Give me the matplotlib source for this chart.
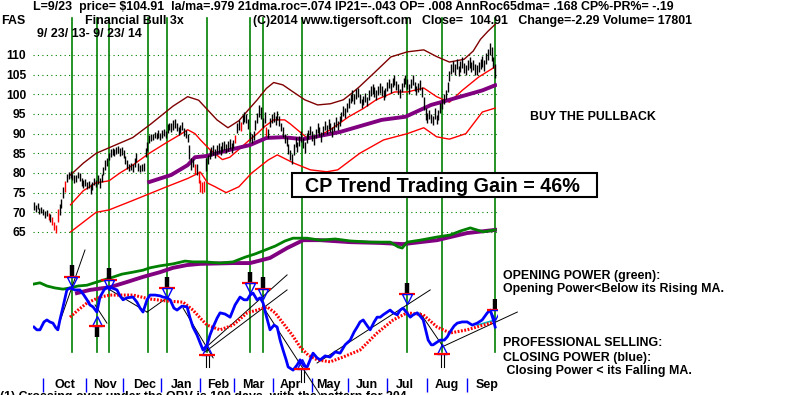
#%% Libraries
"""
FAS (Financial Bull 3x) - Tiger style chart with Closing Power panel
"""
import numpy as np
import matplotlib
matplotlib.use("Agg")
import matplotlib.pyplot as plt
from matplotlib.patches import Rectangle
from matplotlib.transforms import offset_copy

plt.rcParams['font.family'] = ['Liberation Sans', 'DejaVu Sans']
plt.rcParams['font.weight'] = 'bold'

#%% Data
# daily bars, trading day index 0 = 9/23/13 ... 252 = 9/23/14
lows = [70.5, 70.0, 70.8, 69.6, 69.8, 69.2, 68.6, 69.0, 68.0, 67.6,
        66.8, 65.6, 64.8, 67.6, 69.4, 71.0, 73.6, 75.2, 77.8, 78.4,
        78.8, 78.2, 77.4, 77.8, 78.6, 78.0, 76.8, 76.2, 76.6, 75.8,
        76.2, 74.6, 75.6, 77.0, 76.4, 77.2, 76.2, 77.6, 79.4, 80.8,
        81.8, 83.2, 84.0, 84.6, 84.2, 84.8, 85.0, 84.4, 84.6, 83.8,
        82.4, 81.0, 80.4, 80.8, 80.2, 81.6, 82.8, 80.6, 80.2, 80.4,
        80.6, 84.0, 85.6, 87.6, 88.2, 88.4, 88.8, 88.6, 89.0, 88.4,
        89.0, 89.4, 88.8, 90.2, 90.8, 90.4, 91.0, 91.4, 90.6, 89.6,
        90.2, 91.0, 89.4, 88.8, 87.8, 83.6, 80.8, 81.4, 79.8, 79.4,
        77.4, 75.2, 75.0, 75.2, 80.6, 82.2, 83.6, 84.2, 84.6, 83.8,
        84.8, 85.2, 84.6, 85.4, 85.8, 85.0, 85.6, 86.0, 85.2, 86.4,
        87.6, 90.2, 91.0, 90.6, 92.4, 93.0, 92.6, 91.2, 88.2, 87.6,
        88.4, 91.0, 92.8, 94.2, 93.6, 91.4, 92.6, 89.4, 88.8, 91.6,
        92.6, 93.0, 92.2, 93.4, 92.0, 90.6, 89.2, 87.6, 86.8, 84.8,
        83.4, 82.2, 84.6, 86.6, 85.4, 86.8, 88.0, 86.4, 85.2, 87.6,
        88.6, 89.6, 88.2, 87.2, 88.8, 90.2, 89.4, 88.0, 89.6, 90.8,
        89.8, 91.2, 90.4, 89.2, 90.6, 91.8, 90.8, 92.0, 93.2, 94.6,
        94.0, 95.4, 96.6, 97.8, 98.4, 97.6, 98.8, 99.2, 97.8, 96.4,
        97.2, 98.0, 97.0, 98.6, 99.6, 100.2, 99.4, 98.6, 99.8, 100.4,
        99.6, 98.6, 99.2, 100.8, 101.6, 100.4, 101.8, 102.4, 101.0, 100.2,
        99.0, 100.6, 101.8, 102.6, 101.4, 100.2, 101.6, 102.4, 100.8, 99.8,
        100.6, 101.2, 99.4, 96.0, 93.4, 92.8, 93.6, 92.6, 92.2, 93.8,
        92.4, 93.4, 95.2, 96.2, 97.6, 98.8, 100.6, 103.4, 105.2, 105.8,
        105.0, 106.4, 104.6, 105.8, 106.8, 105.4, 104.8, 106.2, 106.8, 105.6,
        106.2, 105.0, 104.8, 105.6, 106.4, 107.0, 106.0, 107.8, 108.6, 110.0,
        108.4, 106.6, 104.2]
highs = [72.6, 71.8, 72.4, 71.2, 71.4, 70.8, 70.4, 70.6, 69.8, 69.6,
         68.8, 67.6, 66.8, 70.8, 72.2, 73.4, 76.4, 78.0, 79.8, 80.2,
         80.4, 79.8, 79.4, 79.6, 80.2, 80.0, 78.8, 78.2, 78.4, 77.6,
         78.0, 77.2, 77.6, 78.8, 78.2, 79.6, 78.6, 79.8, 81.6, 83.2,
         83.8, 85.2, 86.0, 86.4, 86.2, 86.6, 86.8, 86.4, 86.6, 85.8,
         84.4, 83.2, 82.4, 82.6, 82.2, 83.8, 85.0, 82.6, 82.0, 82.4,
         82.6, 86.4, 88.0, 89.6, 89.8, 90.0, 90.4, 90.2, 90.8, 90.2,
         90.8, 91.2, 90.6, 92.4, 92.8, 92.6, 93.4, 93.6, 92.8, 91.8,
         92.2, 93.0, 91.4, 90.8, 89.8, 87.2, 83.8, 83.6, 82.2, 82.4,
         80.4, 78.2, 77.6, 78.0, 83.8, 84.6, 85.8, 86.6, 87.2, 86.2,
         87.0, 87.6, 86.8, 87.8, 88.2, 87.4, 88.2, 88.6, 87.6, 88.4,
         89.6, 92.6, 93.4, 93.0, 94.8, 95.4, 95.0, 93.6, 90.4, 89.8,
         90.6, 93.4, 95.2, 97.4, 96.8, 94.0, 95.6, 91.8, 91.2, 94.0,
         95.0, 95.6, 94.6, 95.8, 94.4, 92.8, 91.6, 90.0, 89.2, 87.4,
         85.8, 84.8, 87.4, 89.2, 88.0, 89.4, 90.6, 88.8, 87.8, 90.2,
         91.0, 92.0, 90.6, 89.6, 91.2, 92.6, 91.8, 90.4, 92.0, 93.2,
         92.2, 93.6, 92.8, 91.6, 93.0, 94.2, 93.2, 94.4, 95.6, 97.0,
         96.4, 97.8, 99.0, 100.2, 101.0, 100.2, 101.4, 101.6, 100.2, 98.8,
         99.6, 100.4, 99.4, 101.0, 102.0, 102.6, 101.8, 101.0, 102.2, 102.8,
         102.0, 101.0, 101.6, 103.2, 104.0, 102.8, 104.2, 104.8, 103.4, 102.6,
         101.4, 103.0, 104.2, 105.0, 103.8, 102.6, 104.0, 104.8, 103.2, 102.2,
         103.0, 103.6, 101.8, 99.4, 96.4, 95.2, 96.0, 95.0, 94.6, 96.4,
         94.8, 96.0, 97.8, 98.8, 100.0, 101.2, 103.2, 106.0, 107.8, 108.4,
         107.6, 109.0, 107.2, 108.4, 109.4, 108.0, 107.4, 108.8, 109.4, 108.2,
         108.8, 107.6, 107.4, 108.2, 109.0, 109.8, 108.6, 110.4, 111.6, 113.0,
         112.0, 109.4, 107.6]
red_days = [8, 10, 11, 12, 13, 17, 88, 90, 91, 92, 93, 110, 113, 127]

# 21-day bands and 65-day ma
bb_up_d = [20, 27, 34, 44, 54, 64, 76, 84, 90, 95, 100, 106, 112, 118, 122, 127,
           131, 136, 141, 148, 155, 162, 169, 174, 178, 186, 195, 204, 213, 220,
           227, 235, 240, 244, 248, 252]
bb_up_v = [79.5, 82.5, 85, 87, 89, 92.5, 97, 99.4, 98.5, 96, 93.5, 91.5, 93.3,
           96.5, 98.6, 101.5, 103, 102.4, 100.8, 98.6, 97.3, 97.6, 98.6, 100.4,
           102, 105.5, 109.5, 110.8, 111.3, 109.6, 108.2, 108.9, 111, 114, 116, 117.8]
ma21_d = [20, 27, 34, 41, 47, 54, 63, 72, 80, 84, 88, 91, 96, 103, 107, 112, 118,
          122, 126, 131, 137, 140, 149, 156, 162, 172, 180, 187, 197, 204, 213,
          220, 227, 234, 243, 252]
ma21_v = [71.9, 75.5, 77.5, 78, 80, 82, 85, 87.6, 89.8, 91, 90, 88.4, 86, 83.4,
          84, 86, 88.5, 90, 91.8, 93.5, 93.5, 92.5, 89, 89.5, 91, 94.3, 96.4, 98.6,
          100.6, 100.6, 101.6, 99.4, 98, 101, 104.4, 107]
bb_lo_d = [20, 34, 41, 54, 72, 84, 91, 95, 99, 105, 112, 119, 128, 133, 142, 151,
           160, 166, 178, 191, 204, 213, 220, 227, 236, 245, 252]
bb_lo_v = [65, 70, 70.6, 73, 76.4, 78.6, 80.2, 77.4, 76.5, 75, 76.5, 80, 83.3,
           84.6, 82.5, 80.8, 80.3, 80.8, 85, 88.4, 90, 91.5, 89.2, 88.6, 90, 95.5, 96.5]
ma65_d = [63, 75, 84, 88, 94, 108, 118, 127, 136, 147, 167, 190, 203, 217, 227, 245, 252]
ma65_v = [77.7, 79.5, 82, 84, 84.3, 86, 87.1, 88.9, 89.1, 88.6, 90.4, 93.5, 94.3,
          97.3, 98.6, 101, 102.3]

# Opening Power (green) and its ma, power index units
op_d = [0, 3.3, 7.1, 11.5, 15.9, 19.7, 24.1, 29, 34.4, 41.6, 48.1, 54.1, 59.6,
        63.4, 68.9, 76, 82.6, 86.9, 93.5, 101.7, 108.8, 115.4, 120.8, 126.3,
        131.8, 137.2, 141.6, 149.3, 156.4, 164.6, 172.8, 183.7, 194.6, 199,
        201.2, 203.9, 211, 220.3, 227.4, 232.9, 238.4, 245.5, 252]
op_v = [28.1, 28.4, 27.6, 27.1, 26.8, 27.1, 27.6, 27.8, 28.6, 29.6, 30.6, 31.1,
        31.6, 32.2, 32.7, 33.2, 33.9, 33.7, 33.7, 33.4, 33.7, 34.9, 35.7, 36.7,
        37.7, 39, 39.7, 39.7, 39.2, 39.5, 39, 38.7, 38.7, 37.5, 37.2, 38.7, 39.2,
        40, 40.5, 41.5, 42.3, 41.3, 41.8]
opma_d = [23.5, 30.6, 41.6, 50.8, 59.6, 68.9, 76, 83.7, 90.8, 108.8, 118.1, 129,
          138.3, 147.1, 156.4, 172.8, 189.2, 201.7, 211, 220.3, 236.7, 252]
opma_v = [25.8, 26.6, 27.3, 28.6, 29.9, 31.1, 32.2, 32.9, 33.2, 33.4, 33.4, 34.7,
          37.2, 39.2, 39.2, 38.7, 38.5, 38.2, 38.7, 39.2, 41, 41.8]

# Closing Power (blue) and its ma
cp_d = [0, 1.6, 3.3, 5.5, 7.1, 8.7, 10.4, 12.0, 13.1, 14.2, 15.9, 18.0, 19.7,
        22.4, 25.1, 27.3, 29.0, 30.6, 32.3, 34.4, 36.1, 38.3, 39.9, 42.6, 45.4,
        47.0, 48.7, 50.8, 54.1, 56.3, 58.0, 59.6, 61.8, 63.4, 66.2, 68.9, 70.5,
        72.7, 74.4, 76.5, 78.2, 80.9, 83.7, 85.3, 86.9, 89.1, 90.8, 92.4, 94.6,
        96.2, 97.9, 100.1, 101.7, 104.4, 107.2, 109.9, 112.6, 114.8, 116.5,
        118.1, 119.7, 121.9, 123.6, 125.2, 126.8, 129.0, 131.2, 132.9, 134.5,
        136.1, 137.8, 138.9, 141.6, 143.8, 145.4, 147.6, 149.3, 150.9, 152.5,
        154.7, 156.4, 159.1, 161.8, 164.6, 167.3, 170.0, 172.8, 175.0, 176.6,
        178.2, 179.9, 182.1, 183.7, 185.9, 187.5, 189.2, 190.8, 193.0, 194.6,
        196.3, 198.5, 200.1, 201.7, 203.4, 205.6, 207.2, 209.4, 211.0, 212.7,
        214.3, 215.4, 217.1, 218.1, 220.3, 222.0, 224.2, 225.8, 227.4, 229.6,
        231.3, 234.0, 236.7, 239.5, 242.2, 244.9, 247.7, 249.3, 251.0, 252.0]
cp_v = [17.2, 16.5, 16.5, 18.5, 19.0, 18.5, 18.2, 17.0, 16.5, 19.0, 22.3, 26.6,
        27.1, 26.6, 26.6, 25.3, 24.1, 22.8, 22.3, 21.0, 24.8, 26.6, 27.3, 27.1,
        26.6, 25.1, 24.1, 24.6, 24.8, 23.5, 22.0, 21.0, 24.1, 25.3, 25.3, 25.1,
        24.8, 24.6, 24.1, 22.0, 21.5, 22.5, 22.3, 19.5, 17.2, 15.2, 13.2, 11.4,
        12.7, 15.2, 17.2, 19.5, 20.8, 20.5, 19.7, 22.8, 24.8, 24.1, 24.1, 25.3,
        25.8, 24.1, 24.6, 23.3, 20.3, 16.5, 17.7, 17.2, 13.9, 11.4, 8.9, 7.1,
        6.3, 7.6, 8.9, 7.3, 7.1, 8.9, 10.6, 9.4, 8.9, 9.9, 9.6, 10.9, 10.6, 12.7,
        13.9, 16.0, 17.2, 18.5, 19.0, 17.5, 16.5, 18.5, 19.7, 19.7, 20.3, 21.0,
        21.5, 20.8, 20.3, 21.5, 22.0, 21.0, 19.7, 20.3, 20.8, 20.0, 19.0, 16.0,
        13.9, 12.7, 12.7, 13.4, 13.9, 13.9, 14.7, 16.0, 17.5, 18.2, 18.5, 18.5,
        17.7, 18.2, 19.0, 20.8, 21.5, 19.0, 17.2]
cpma_d = [19.7, 24.1, 29.0, 36.1, 41.6, 54.1, 63.4, 72.7, 81.5, 86.9, 90.8, 94.6,
          101.7, 108.8, 116.5, 121.9, 127.4, 131.8, 136.1, 141.1, 145.4, 149.8,
          154.7, 161.8, 168.9, 178.2, 187.5, 196.3, 203.9, 212.7, 220.3, 227.4,
          236.7, 245.5, 252.0]
cpma_v = [19.7, 21.5, 23.3, 24.8, 25.3, 25.3, 24.3, 23.8, 23.5, 21.5, 19.5, 17.7,
          16.5, 17.7, 20.8, 21.5, 22.3, 20.8, 18.2, 15.2, 12.2, 10.1, 8.9, 8.4,
          9.6, 11.4, 15.7, 19.0, 20.8, 20.3, 17.2, 15.7, 16.5, 17.7, 18.5]

# signals
signal_days = [20.8, 34.4, 41, 62.3, 72.7, 94.6, 118.1, 125.2, 146.5, 203.9, 223.1, 252]
sell_d = [20.8, 41, 72.7, 118.1, 125.2, 203.9, 252]
sell_top = [32.9, 32.2, 29.9, 31.1, 29.9, 28.4, 24.3]
sell_bot = [29.9, 29.1, 27.1, 28.4, 26.8, 25.6, 21.5]
buy_d = [34.4, 94.6, 146.5, 223.1]
buy_lvl = [17.5, 10.1, 6.6, 10.4]
buy_bot = [14.7, 7.1, 3.3, 7.1]

# CP trendlines (day0, v0, day1, v1)
trendlines = [(12.6, 16.5, 27.9, 36.7), (41.6, 26.6, 61.8, 21.0), (61.8, 21.0, 72.7, 24.6),
              (33.4, 22.8, 39.9, 18.2), (81.5, 22.0, 97.9, 9.4), (92.4, 11.4, 138.3, 30.4),
              (93.5, 10.9, 138.3, 26.6), (125.2, 22.3, 156.4, 0.0), (154.7, 8.1, 216.5, 26.6),
              (211.0, 20.8, 223.6, 12.2), (223.1, 12.2, 264.1, 21.0)]

months = ['Oct', 'Nov', 'Dec', 'Jan', 'Feb', 'Mar', 'Apr', 'May', 'Jun', 'Jul', 'Aug', 'Sep']
month_start = [4.9, 28.4, 48.7, 69.4, 90.8, 109.3, 130.7, 152, 171.7, 193, 214.9, 236.7]
month_mid = [17, 38.8, 60.7, 80.9, 100.6, 119.7, 140, 160.7, 182, 202.8, 225.8, 247.7]
price_ticks = [65, 70, 75, 80, 85, 90, 95, 100, 105, 110]

#%% Figure
W, H = 800, 395
fig = plt.figure(figsize=(W / 100, H / 100), dpi=100)
def fpos(x, y):
    return x / W, 1 - y / H

rect = [33 / W, 0, 464 / W, 1]
ax = fig.add_axes(rect)
ax.set_xlim(-0.5, 253)
ax.set_ylim(23.55, 123.98)
for s in ax.spines.values():
    s.set_visible(False)
ax.set_xticks([])
ax.set_yticks(price_ticks)
ax.tick_params(axis='y', length=0, pad=5, labelsize=8.7)
ax.grid(axis='y', color='#008000', linestyle=(0, (1, 3)), lw=0.8)
ax.set_axisbelow(True)

ax2 = fig.add_axes(rect, sharex=ax)
ax2.set_ylim(0, 100)
ax2.axis('off')
ax2.patch.set_alpha(0)

# signal verticals
for d in signal_days:
    ax.axvline(d, ymin=0.109, ymax=0.954, color='#008000', lw=1.2, zorder=1)

# bars
days = np.arange(len(lows))
cols = ['#ff0000' if d in red_days else 'black' for d in days]
ax.vlines(days, lows, highs, colors=cols, lw=1.0, zorder=3)

# bands
ax.plot(bb_up_d, bb_up_v, color='#800000', lw=1, zorder=2)
ax.plot(ma21_d, ma21_v, color='#ff0000', lw=1, zorder=2)
ax.plot(bb_lo_d, bb_lo_v, color='#ff0000', lw=1, zorder=2)
ax.plot(ma65_d, ma65_v, color='#800080', lw=2.8, zorder=2)

# lower panel
ax2.plot(opma_d, opma_v, color='#800080', lw=2.8, zorder=2)
ax2.plot(op_d, op_v, color='#008000', lw=2, zorder=3)
for d0, v0, d1, v1 in trendlines:
    ax2.plot([d0, d1], [v0, v1], color='black', lw=0.7, zorder=3, clip_on=False)
ax2.plot([242.2, 252], [17.7, 19.0], color='#00c0c0', lw=1.2, zorder=4)
ax2.plot(cpma_d, cpma_v, color='#ff0000', lw=2.2, linestyle=(0, (0.6, 0.5)), zorder=4)
ax2.plot(cp_d, cp_v, color='#0000ff', lw=2, zorder=5)

below = offset_copy(ax2.transData, fig=fig, y=-5, units='dots')
above = offset_copy(ax2.transData, fig=fig, y=5, units='dots')
ax2.vlines(sell_d, sell_bot, sell_top, color='black', lw=3.2, zorder=6)
ax2.plot(sell_d, sell_bot, ls='none', marker='_', ms=11, mew=1.6, color='#ff0000', zorder=7)
ax2.plot(sell_d, sell_bot, ls='none', marker='v', ms=7, mfc='none', mec='#0000ff', mew=1,
         transform=below, zorder=7)
for i, d in enumerate(buy_d):
    if i == 0:
        ax2.vlines(d, buy_bot[i], buy_lvl[i], color='black', lw=3.2, zorder=6)
    else:
        for dx in (-1.5, 1.5):
            tr = offset_copy(ax2.transData, fig=fig, x=dx, units='dots')
            ax2.plot([d, d], [buy_bot[i], buy_lvl[i]], color='black', lw=0.8, transform=tr, zorder=6)
ax2.plot(buy_d, buy_lvl, ls='none', marker='^', ms=7, mfc='none', mec='#0000ff', mew=1,
         transform=above, zorder=7)
ax2.plot(buy_d, buy_lvl, ls='none', marker='_', ms=11, mew=1.6, color='#ff0000', zorder=7)

# month axis
ax2.vlines(month_start, 0.76, 4.3, color='#0000ff', lw=1, clip_on=False)
for m, d in zip(months, month_mid):
    ax2.text(d, 2.5, m, ha='center', va='center', fontsize=9)

#%% Texts
fs = 8.9
fig.text(*fpos(33, 7), "L=9/23  price= $104.91  la/ma=.979 21dma.roc=.074 IP21=-.043 "
         "OP= .008 AnnRoc65dma= .168 CP%-PR%= -.19", va='center', fontsize=fs)
fig.text(*fpos(1, 21), "FAS", va='center', fontsize=fs)
fig.text(*fpos(85, 21), "Financial Bull 3x", va='center', fontsize=fs)
fig.text(*fpos(253, 21), "(C)2014 www.tigersoft.com", va='center', fontsize=fs)
fig.text(*fpos(422, 21), "Close=  104.91   Change=-2.29 Volume= 17801", va='center', fontsize=fs)
fig.text(*fpos(37, 34), "9/ 23/ 13- 9/ 23/ 14", va='center', fontsize=fs)

fig.text(*fpos(530, 117), "BUY THE PULLBACK", va='center', fontsize=fs)
fig.text(*fpos(503, 276), "OPENING POWER (green):", va='center', fontsize=fs)
fig.text(*fpos(503, 289), "Opening Power<Below its Rising MA.", va='center', fontsize=fs)
fig.text(*fpos(503, 343), "PROFESSIONAL SELLING:", va='center', fontsize=fs)
fig.text(*fpos(503, 358), "CLOSING POWER (blue):", va='center', fontsize=fs)
fig.text(*fpos(503, 371), " Closing Power < its Falling MA.", va='center', fontsize=fs)
fig.text(*fpos(0, 391), "(1) Crossing over under the OBV is 100 days, with the pattern for 204",
         va='top', fontsize=fs)

box = Rectangle(fpos(292, 197), 305 / W, 24 / H, transform=fig.transFigure,
                facecolor='white', edgecolor='black', lw=1.5, zorder=5)
fig.add_artist(box)
fig.text(*fpos(305, 186), "CP Trend Trading Gain = 46%", va='center', fontsize=14.2, zorder=6)

fig.savefig('out.png', dpi=100)
